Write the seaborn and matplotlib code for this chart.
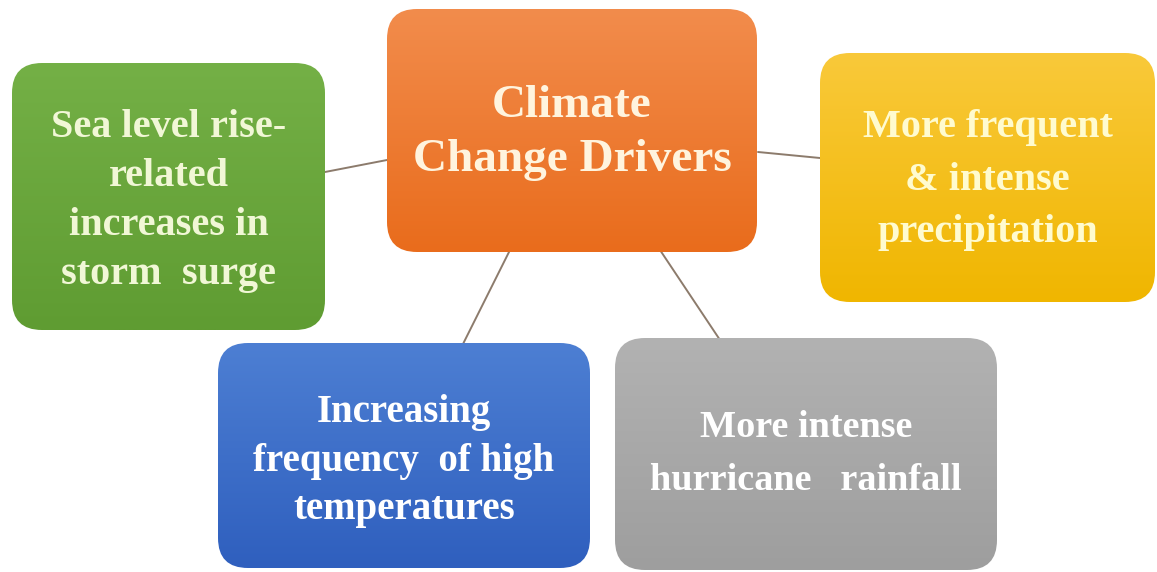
import matplotlib
matplotlib.use("Agg")
import matplotlib.pyplot as plt
from matplotlib.patches import FancyBboxPatch
from matplotlib.colors import LinearSegmentedColormap
import numpy as np
import seaborn as sns

# node labels and colours (top / bottom of gradient)
labels = [
    "Climate\nChange Drivers",
    "Sea level rise-\nrelated\nincreases in\nstorm  surge",
    "More frequent\n& intense\nprecipitation",
    "Increasing\nfrequency  of high\ntemperatures",
    "More intense\nhurricane   rainfall",
]
top_colors = ["#f28c4c", "#74b046", "#f9c93a", "#4d7fd3", "#b2b2b2"]
bottom_colors = ["#e96c1c", "#5f9c32", "#f0b600", "#2f5fbe", "#9e9e9e"]
text_colors = ["#fff4de", "#f1f7d6", "#fffbcf", "#ffffff", "#ffffff"]
font_sizes = [34, 29, 29, 28, 27.5]
line_gaps = [1.39, 1.44, 1.55, 1.42, 1.67]

# box geometry in pixels: left, top, right, bottom
boxes = [
    (387, 9, 757, 252),
    (12, 63, 325, 330),
    (820, 53, 1155, 302),
    (218, 343, 590, 568),
    (615, 338, 997, 570),
]
text_y = [133, 201, 180, 461, 454]

# connector lines from centre box to each outer box
links_x = [(325, 387), (758, 820), (510, 463), (660, 720)]
links_y = [(172, 160), (152, 158), (250, 344), (250, 340)]

sns.set_theme(style="white")
plt.rcParams['font.family'] = ['Liberation Serif', 'DejaVu Serif']

fig = plt.figure(figsize=(11.57, 5.72), dpi=100)
ax = fig.add_axes([0, 0, 1, 1])
ax.set_xlim(0, 1157)
ax.set_ylim(572, 0)
ax.axis("off")

for lx, ly in zip(links_x, links_y):
    ax.plot(lx, ly, color="#8c7b6c", lw=1.4, zorder=1)

grad = np.linspace(0, 1, 256).reshape(-1, 1)
for i, (l, t, r, b) in enumerate(boxes):
    patch = FancyBboxPatch((l, t), r - l, b - t,
                           boxstyle="round,pad=0,rounding_size=30",
                           facecolor="none", edgecolor="none", zorder=2)
    ax.add_patch(patch)
    cmap = LinearSegmentedColormap.from_list("g%d" % i, [top_colors[i], bottom_colors[i]])
    im = ax.imshow(grad, cmap=cmap, extent=(l, r, b, t), aspect="auto", zorder=2)
    im.set_clip_path(patch)
    ax.text((l + r) / 2, text_y[i], labels[i], ha="center", va="center",
            fontsize=font_sizes[i], fontweight="bold", color=text_colors[i],
            linespacing=line_gaps[i], zorder=3)

ax.set_xlim(0, 1157)
ax.set_ylim(572, 0)
fig.savefig("out.png", dpi=100)
